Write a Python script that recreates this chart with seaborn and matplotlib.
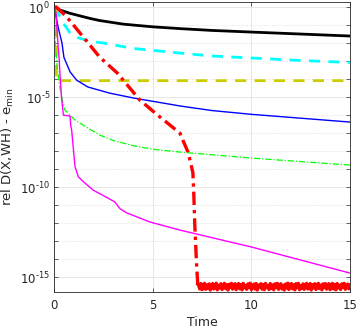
import numpy as np
import pandas as pd
import matplotlib
matplotlib.use("Agg")
import matplotlib.pyplot as plt
import matplotlib.ticker as mticker
import seaborn as sns

# ---- data (time, log10 of rel D(X,WH) - e_min) ----
black_t = [0, 0.1, 0.3, 0.8, 1.8, 2.3, 3.5, 5, 6.4, 8, 10, 12.5, 15]
black_v = [0, -0.08, -0.17, -0.35, -0.63, -0.75, -0.95, -1.1, -1.2, -1.3, -1.39, -1.5, -1.61]

cyan_t = [0, 0.12, 0.46, 0.8, 1.2, 1.8, 2.5, 4, 6.4, 8, 10, 12.5, 15]
cyan_v = [0, -0.17, -0.9, -1.44, -1.7, -1.9, -2.0, -2.3, -2.56, -2.72, -2.83, -2.97, -3.08]

yellow_t = [0, 0.1, 0.1, 15]
yellow_v = [0, -0.3, -4.09, -4.09]

blue_t = [0, 0.19, 0.39, 0.49, 0.8, 1.13, 1.7, 2.8, 4, 6.4, 8, 10, 15]
blue_v = [0, -1.1, -2.0, -2.8, -3.6, -4.06, -4.44, -4.78, -5.05, -5.5, -5.75, -5.96, -6.39]

green_t = [0, 0.05, 0.15, 0.29, 0.46, 0.54, 1.05, 1.7, 2.3, 3, 4, 5, 6.4, 10, 15]
green_v = [0, -2.0, -3.39, -4.5, -5.44, -5.72, -6.28, -6.72, -7.11, -7.42, -7.7, -7.9, -8.06, -8.39, -8.78]

magenta_t = [0, 0.08, 0.2, 0.25, 0.29, 0.37, 0.46, 0.8, 0.83, 0.88, 1.05, 1.22, 1.47,
             1.97, 2.82, 3.07, 3.33, 3.68, 4.85, 6.37, 10, 15]
magenta_v = [0, -0.3, -2.3, -2.94, -3.78, -5.06, -6.0, -6.06, -6.56, -6.83, -8.87, -9.43, -9.7,
             -10.17, -10.67, -10.83, -11.2, -11.44, -11.94, -12.39, -13.33, -14.78]

red_t = [0, 0.1, 0.64, 1.3, 2.3, 3.2, 4.34, 5.36, 6.37, 6.52, 6.78, 6.88, 7.03, 7.08, 7.13, 7.23, 7.28]
red_v = [0, 0, -0.56, -1.44, -2.78, -3.67, -5.17, -6.11, -7.0, -7.39, -8.05, -8.5, -9.2, -10.5, -12.2, -14.6, -15.4]
# machine-precision floor (read as a noisy band)
red_floor_v = [
    -15.45, -15.66, -15.36, -15.70, -15.52, -15.35, -15.68, -15.44, -15.62, -15.38,
    -15.72, -15.48, -15.36, -15.66, -15.55, -15.34, -15.71, -15.46, -15.60, -15.37,
    -15.69, -15.50, -15.35, -15.64, -15.43, -15.72, -15.40, -15.58, -15.35, -15.67,
    -15.49, -15.37, -15.70, -15.53, -15.36, -15.65, -15.42, -15.71, -15.35, -15.59,
    -15.47, -15.68, -15.38, -15.56, -15.34, -15.70, -15.51, -15.39, -15.66, -15.36,
    -15.72, -15.45, -15.57, -15.37, -15.67, -15.41, -15.70, -15.35, -15.58, -15.48,
    -15.69, -15.36, -15.63, -15.44, -15.71, -15.38, -15.55, -15.35, -15.68, -15.50,
    -15.37, -15.66, -15.46, -15.72, -15.39, -15.61, -15.34, -15.69, -15.52, -15.36,
    -15.65, -15.43, -15.71, -15.37, -15.57, -15.35, -15.70, -15.47, -15.62, -15.38,
    -15.68, -15.49, -15.35, -15.66, -15.54, -15.36, -15.72, -15.42, -15.60, -15.37,
    -15.69, -15.51, -15.35, -15.64, -15.45, -15.71, -15.38, -15.58, -15.36, -15.67,
    -15.48, -15.37, -15.70, -15.55, -15.35, -15.66, -15.41, -15.71, -15.36, -15.60,
    -15.46, -15.69, -15.38, -15.57, -15.35, -15.68, -15.50, -15.39, -15.65, -15.44,
]

xticks = [0, 5, 10, 15]
yticks_exp = [0, -5, -10, -15]

# ---- figure ----
W, H = 357, 328
fig = plt.figure(figsize=(W / 100, H / 100), dpi=100)
ax = fig.add_axes([54.3 / W, 36 / H, (350 - 54.3) / W, (292 - 2) / H])

plt.rcParams['font.family'] = ['Liberation Sans', 'DejaVu Sans']
plt.rcParams['mathtext.fontset'] = 'custom'
plt.rcParams['mathtext.rm'] = 'Liberation Sans'
plt.rcParams['mathtext.it'] = 'Liberation Sans:italic'
plt.rcParams['mathtext.bf'] = 'Liberation Sans:bold'
plt.rcParams['mathtext.default'] = 'regular'

def draw(t, v, **kw):
    df = pd.DataFrame({"t": t, "y": 10.0 ** np.asarray(v, dtype=float)})
    sns.lineplot(data=df, x="t", y="y", estimator=None, sort=False, ax=ax, **kw)

draw(black_t, black_v, color="black", linewidth=2.0)
draw(cyan_t, cyan_v, color="#00ffff", linewidth=2.0, linestyle=(0, (4, 3)))
draw(yellow_t, yellow_v, color="#cccc00", linewidth=2.0, linestyle=(0, (4, 3)))
draw(blue_t, blue_v, color="#0000ff", linewidth=1.0)
draw(green_t, green_v, color="#00ff00", linewidth=0.9, linestyle=(0, (5, 1.5, 1, 1.5)))
draw(magenta_t, magenta_v, color="#ff00ff", linewidth=1.0)

draw(red_t, red_v, color="#ff0000", linewidth=2.4, linestyle=(0, (4, 1.5, 1, 1.5)))
floor_t = [red_t[-1]] + list(np.linspace(7.32, 15, len(red_floor_v)))
floor_v = [red_v[-1]] + red_floor_v
draw(floor_t, floor_v, color="#ff0000", linewidth=2.4)

ax.set_yscale("log")
ax.set_xlim(0, 15)
ax.set_ylim(10 ** -15.83, 10 ** 0.28)

ax.xaxis.set_major_locator(mticker.FixedLocator(xticks))
ax.xaxis.set_minor_locator(mticker.NullLocator())
ax.yaxis.set_major_locator(mticker.FixedLocator([10.0 ** e for e in yticks_exp]))
ax.yaxis.set_minor_locator(mticker.FixedLocator([10.0 ** e for e in range(-16, 1)]))
ax.yaxis.set_minor_formatter(mticker.NullFormatter())

def yfmt(y, p):
    e = int(round(np.log10(y)))
    if e < 0:
        return r"$10^{\text{-}%d}$" % (-e)
    return r"$10^{%d}$" % e

ax.yaxis.set_major_formatter(mticker.FuncFormatter(yfmt))

ax.grid(which="major", color="#e3e3e3", linewidth=0.6, linestyle="-")
ax.grid(which="minor", axis="y", color="#d8d8d8", linewidth=0.6, linestyle=(0, (1, 2)))
ax.set_axisbelow(True)

ax.tick_params(which="both", direction="in", top=True, right=True, colors="#262626",
               labelsize=8.5, length=3, width=0.5)
ax.tick_params(axis="x", pad=5)
ax.tick_params(axis="y", pad=3)
for s in ax.spines.values():
    s.set_color("#262626")
    s.set_linewidth(0.6)

ax.set_xlabel("Time", fontsize=9, color="#262626", labelpad=3)
ax.set_ylabel(r"rel D(X,WH) - e$_{\mathrm{min}}$", fontsize=9.5, color="#262626")
ax.yaxis.set_label_coords(-0.128, 0.5)

fig.savefig("out.png", dpi=100)
